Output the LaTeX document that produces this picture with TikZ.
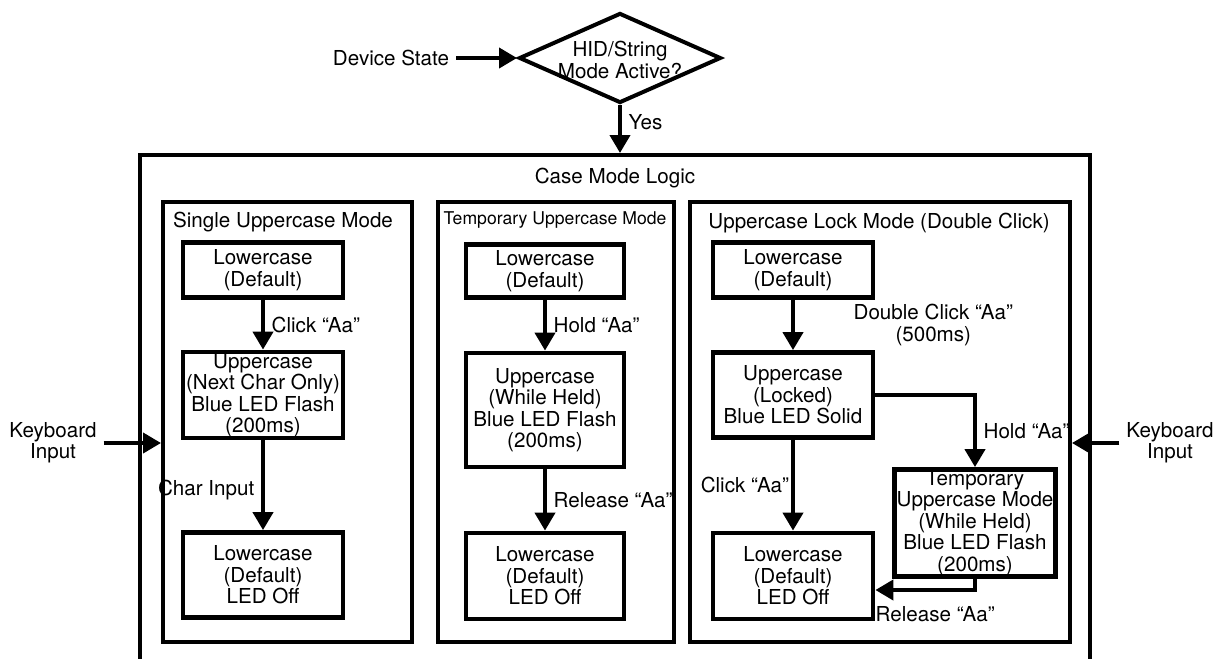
\documentclass[tikz,border=0pt]{standalone}
\usepackage{fontspec}
\setmainfont{TeX Gyre Heros}
\usepackage{tikz}
\usetikzlibrary{arrows.meta,shapes.geometric}

\begin{document}
\begin{tikzpicture}[x=0.5pt,y=-0.5pt,
  font=\fontsize{10.3}{10.7}\selectfont,
  state/.style={draw,line width=2.4pt,align=center,inner xsep=1pt,inner ysep=0pt,minimum width=80pt},
  frame/.style={draw,line width=2pt,inner sep=0pt},
  decision/.style={diamond,draw,line width=2pt,inner sep=0pt,minimum width=101pt,minimum height=45pt},
  flow/.style={line width=2pt,-{Triangle[length=9pt,width=10pt]}}]
\clip (0,0) rectangle (1223,659);
\fill[white] (0,0) rectangle (1223,659);

\node[decision] (mode) at (620,58) {};
\node[align=center,inner sep=0pt] (modetext) at (620,60) {HID/String\\Mode Active?};
\node (device) at (391,58) {Device State};
\draw[flow] (device.east) -- (mode.west);

\node[frame,minimum width=475pt,minimum height=270pt] (logic) at (615,425) {};
\node (logictitle) at (615,178) {Case Mode Logic};
\draw[flow] (mode.south) -- (mode.south |- logic.north) node[pos=0.35,right] {Yes};

\node[frame,minimum width=124.5pt,minimum height=220pt] (single) at (287.5,422) {};
\node[frame,minimum width=118pt,minimum height=220pt] (temp) at (556,422) {};
\node[frame,minimum width=190pt,minimum height=220pt] (lock) at (880,422) {};
\node (singletitle) at (283,222) {Single Uppercase Mode};
\node[font=\fontsize{8.8}{10}\selectfont] (temptitle) at (555,220) {Temporary Uppercase Mode};
\node (locktitle) at (879,223) {Uppercase Lock Mode (Double Click)};

\node[state,minimum height=27.5pt] (sl1) at (263,270) {Lowercase\\(Default)};
\node[state,minimum height=43pt] (sl2) at (263,395) {Uppercase\\(Next Char Only)\\Blue LED Flash\\(200ms)};
\node[state,minimum height=42.5pt] (sl3) at (263,575) {Lowercase\\(Default)\\LED Off};
\draw[flow] (sl1) -- (sl2) node[midway,right] {Click “Aa”};
\draw[flow] (sl2) -- (sl3) node[pos=0.55,left] {Char Input};

\node[state,minimum width=79pt,minimum height=26.5pt] (tl1) at (545,271) {Lowercase\\(Default)};
\node[state,minimum width=79pt,minimum height=57pt] (tl2) at (545,410) {Uppercase\\(While Held)\\Blue LED Flash\\(200ms)};
\node[state,minimum width=79pt,minimum height=43pt] (tl3) at (545,576) {Lowercase\\(Default)\\LED Off};
\draw[flow] (tl1) -- (tl2) node[midway,right] {Hold “Aa”};
\draw[flow] (tl2) -- (tl3) node[midway,right] {Release “Aa”};

\node[state,minimum height=27.5pt] (ll1) at (793,270) {Lowercase\\(Default)};
\node[state,minimum height=42.5pt] (ll2) at (793,395) {Uppercase\\(Locked)\\Blue LED Solid};
\node[state,minimum height=43pt] (ll3) at (793,576) {Lowercase\\(Default)\\LED Off};
\node[state,minimum width=78.5pt,minimum height=53.5pt] (ll4) at (975,523) {Temporary\\Uppercase Mode\\(While Held)\\Blue LED Flash\\(200ms)};
\draw[flow] (ll1) -- (ll2) node[midway,right=26pt,align=center] {Double Click “Aa”\\(500ms)};
\draw[flow] (ll2) -- (ll3) node[midway,left,inner sep=1pt] {Click “Aa”};
\draw[flow] (ll2.east) -| (ll4.north) node[pos=0.75,right] {Hold “Aa”};
\draw[flow] (ll4.south) |- ([yshift=-7pt]ll3.east) node[pos=0.7,below=4pt] {Release “Aa”};

\node[align=center] (kbleft) at (53,443) {Keyboard\\Input};
\draw[flow] (kbleft.east) -- (kbleft.east -| single.west);
\node[align=center] (kbright) at (1170,443) {Keyboard\\Input};
\draw[flow] (kbright.west) -- (kbright.west -| lock.east);
\end{tikzpicture}
\end{document}
